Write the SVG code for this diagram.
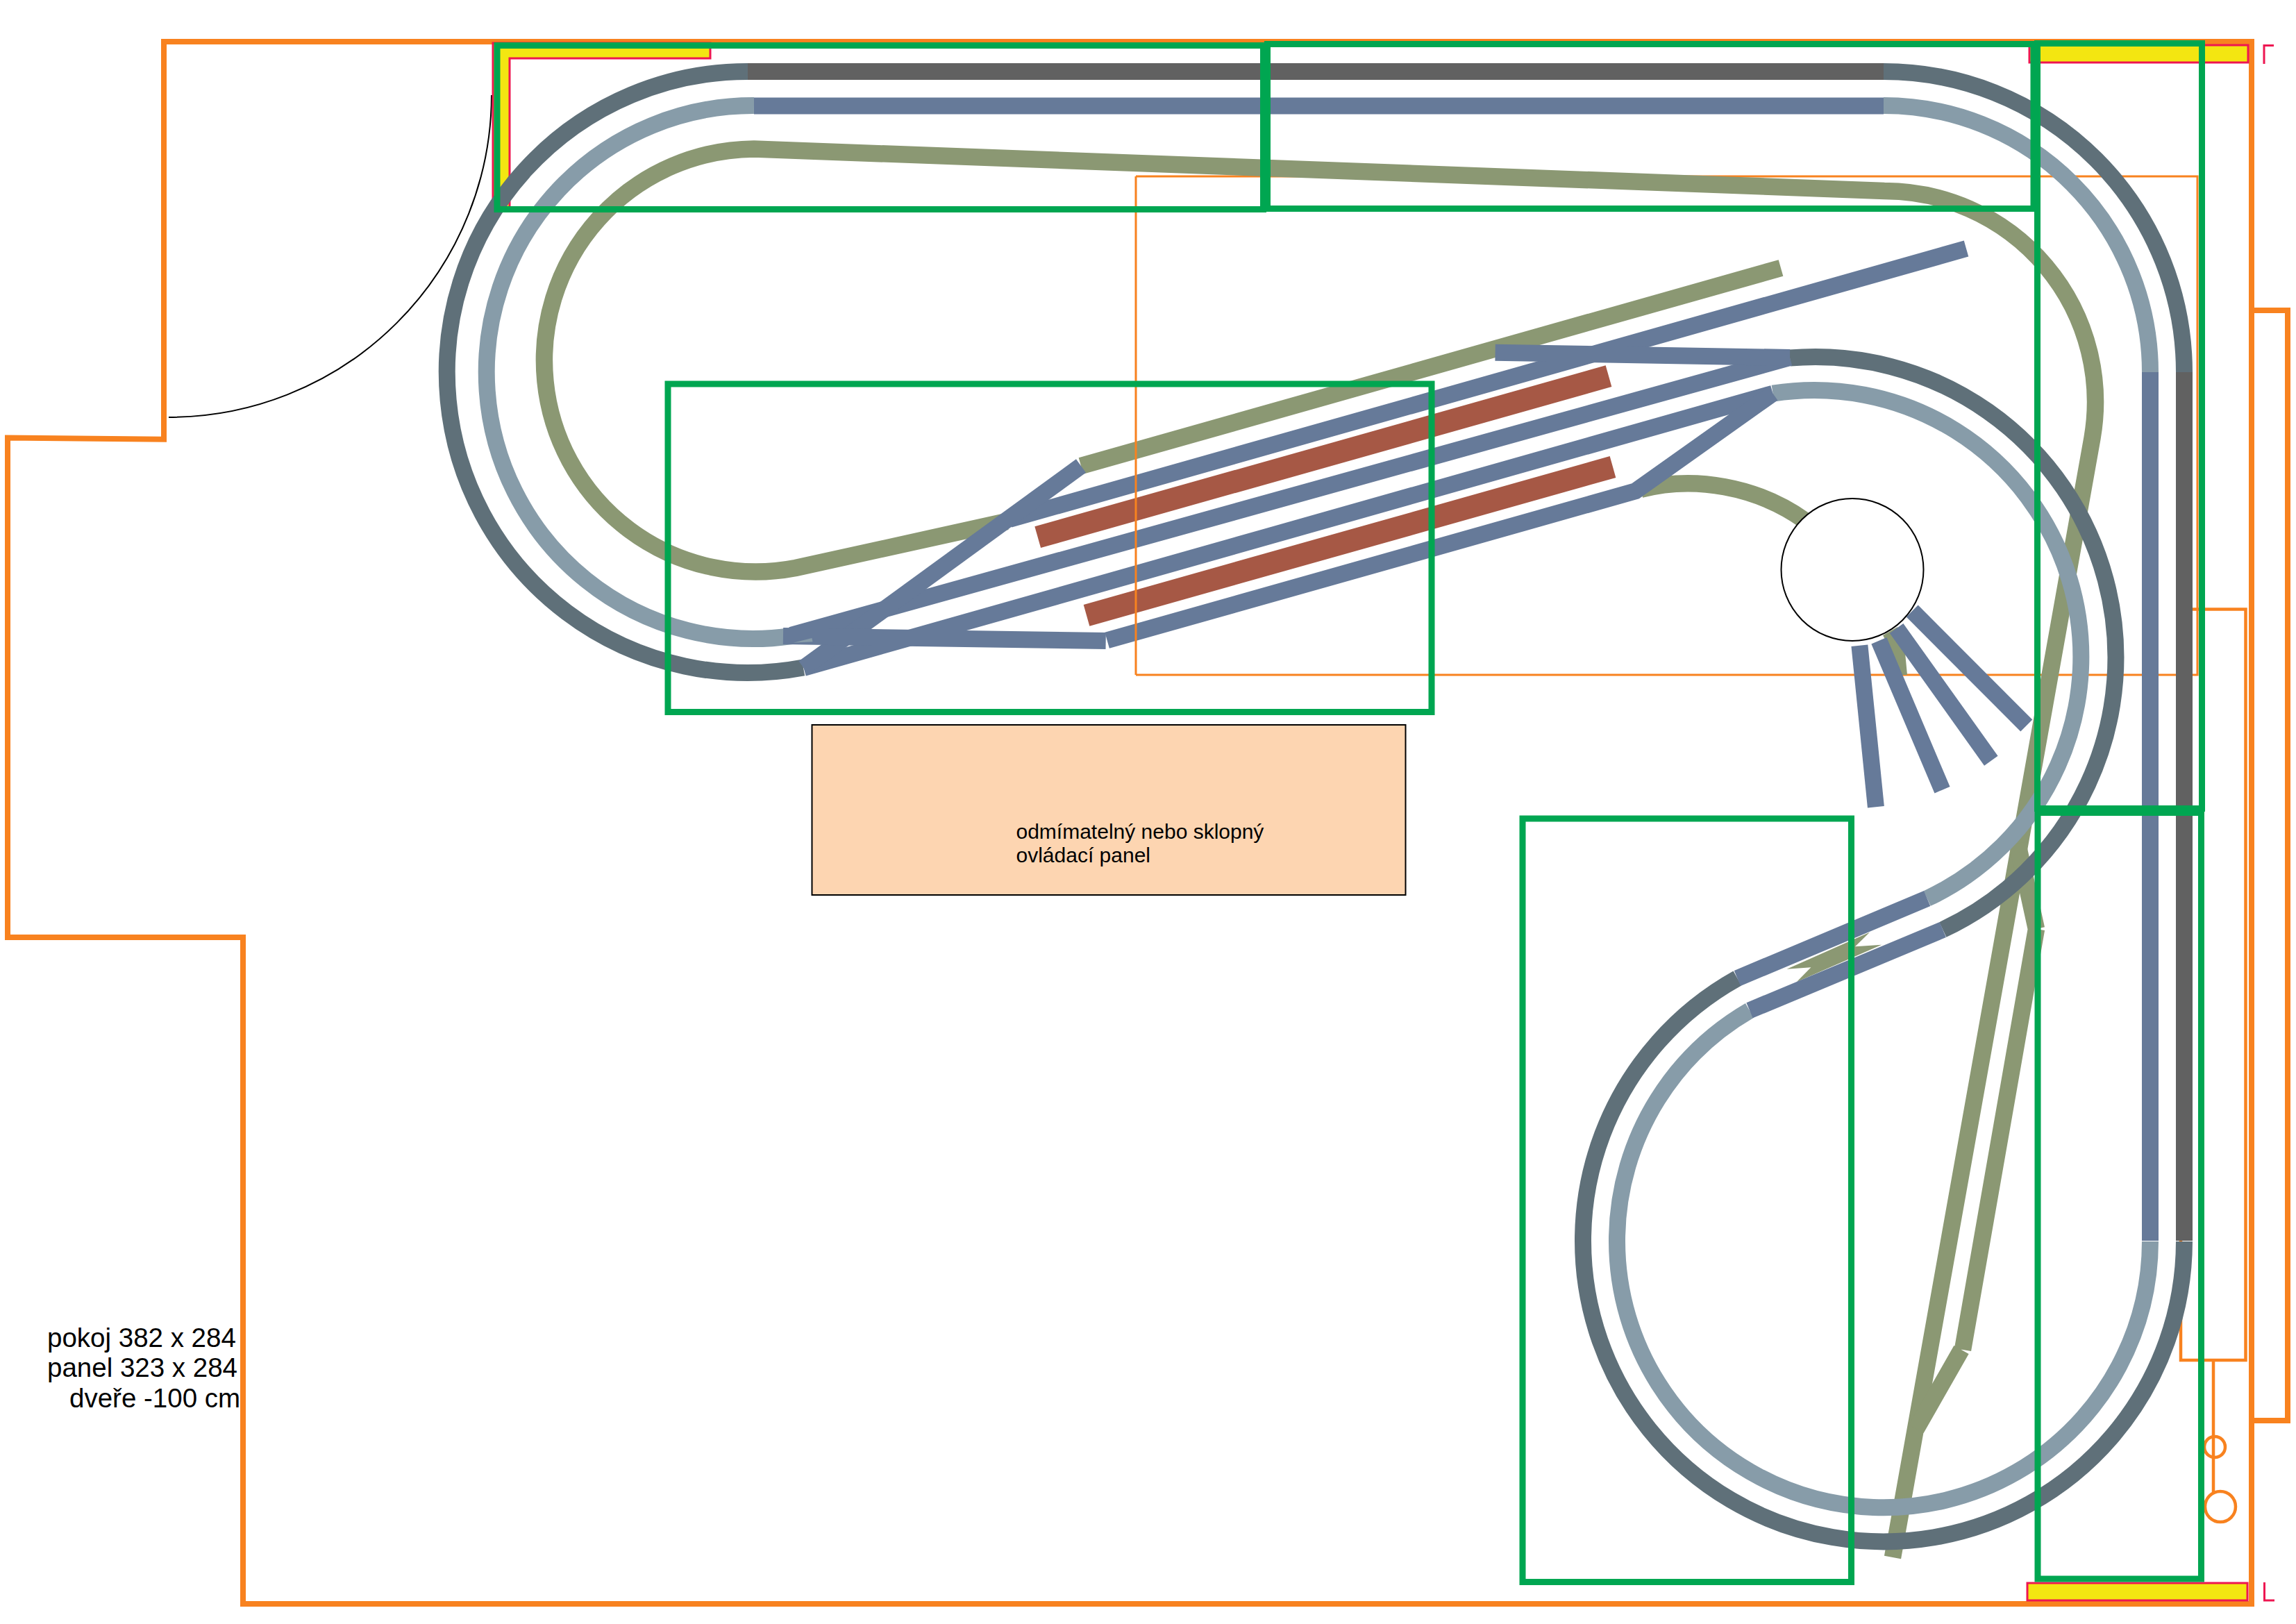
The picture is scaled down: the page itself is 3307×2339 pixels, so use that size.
<svg xmlns="http://www.w3.org/2000/svg" width="3307" height="2339" viewBox="0 0 3307 2339">
<style>
.t{fill:none;stroke-width:24;stroke-linecap:butt}
.gr{stroke:#5f7079}.dk{stroke:#616161}.st{stroke:#879ca9}.bl{stroke:#667a99}.ol{stroke:#8b9873;stroke-width:24.500}
.br{fill:none;stroke:#a65845;stroke-width:32}
.pen{fill:none;stroke:#00a651;stroke-width:9}
.wall{fill:none;stroke:#f8821f;stroke-width:8;stroke-linejoin:miter}
.thin{fill:none;stroke:#f8821f;stroke-width:3}
.mid{fill:none;stroke:#f8821f;stroke-width:4.500}
.y{fill:#f3e611;stroke:#ee1651;stroke-width:3}
.lb{font-family:"Liberation Sans",Arial,sans-serif;fill:#000}
</style>
<rect width="3307" height="2339" fill="#fff"/>
<g id="room">
<path class="wall" d="M236 60H3243V2310H350V1350H11V630.500L236 632.700Z"/>
<path class="wall" d="M3243 447H3295V2046H3243"/>
<path d="M708 137A465 465 0 0 1 243 601" fill="none" stroke="#000" stroke-width="2"/>
<path class="y" d="M710 62H1023V84H734V300H710Z"/>
<rect class="y" x="2923" y="65" width="315" height="25"/>
<rect class="y" x="2920" y="2280" width="317" height="25"/>
<path d="M3275 65.500H3261V92M3261.500 2279V2305H3276" fill="none" stroke="#ee1651" stroke-width="3"/>
<path class="thin" d="M1636 254H3165V972H1636"/>
<rect class="mid" x="3141" y="877.500" width="93.500" height="1081.500"/>
<path class="mid" d="M3188 1959V2150"/>
<circle class="mid" cx="3190" cy="2084" r="15"/>
<circle class="mid" cx="3198" cy="2170" r="22"/>
</g>
<g id="panel">
<rect x="1169.500" y="1044" width="855" height="245" fill="#fdd5b1" stroke="#000" stroke-width="2"/>
<text class="lb" x="1463.500" y="1208" font-size="30">odmímatelný nebo sklopný</text>
<text class="lb" x="1463.500" y="1242" font-size="30">ovládací panel</text>
</g>
<g id="tracks">
<path class="t ol" d="M1450 751L1146 818A304.500 304.500 0 1 1 1086 214.500L2714 275A304 304 0 0 1 3013.500 631L2726 2243"/>
<path class="t ol" d="M2827 1944L2933 1338M2933 1338L2906 1215M2825 1944L2760 2058"/>
<path class="t ol" d="M1557 671L2565 386"/>
<path class="t ol" d="M2363 705C2440 685 2530 700 2600 750"/>
<path d="M2573.600 1395.700L2608.400 1393.300L2587.800 1414.300L2710.200 1360.700L2672 1363.300L2693 1342.700Z" fill="#8b9873"/>
<path d="M2712 915L2733 903L2744 940L2747 972L2738 972L2720 930Z" fill="#8b9873"/>
<path class="t gr" d="M1077 103A433 433 0 1 0 1157 961.500"/>
<path class="t st" d="M1086 152A384 384 0 1 0 1140 916"/>
<path class="t dk" d="M1077 103H2713"/>
<path class="t bl" d="M1086 152.500H2713"/>
<path class="t gr" d="M2713 103A433 433 0 0 1 3146 536"/>
<path class="t st" d="M2713 152A384 384 0 0 1 3097 536"/>
<path class="t bl" d="M3097 536V1787"/>
<path class="t dk" d="M3146 536V1787"/>
<path class="t gr" d="M3146 1788A433 433 0 1 1 2502.400 1409"/>
<path class="t st" d="M3097 1788A384 384 0 1 1 2520 1455.300"/>
<path class="t gr" d="M2578 515.500A433 433 0 0 1 2798.300 1339"/>
<path class="t st" d="M2553.500 566.700A384 384 0 0 1 2775.700 1294"/>
<path d="M2532.500 527.300V532.700L2578 527L2578 515Z" fill="#5f7079"/>
<path class="t bl" d="M2775.700 1294L2502.400 1409"/>
<path class="t bl" d="M2798.300 1339L2520 1455.300"/>
<path class="t bl" d="M1139.600 914.700L2578 515"/>
<path class="t bl" d="M1157.500 962L2553.500 566.700"/>
<path class="t bl" d="M1454 748L2832 358"/>
<path class="t bl" d="M1557 671L1157.500 962"/>
<path class="t bl" d="M1128 916L1592.700 923"/>
<path class="t bl" d="M1594.600 922.300L2355.600 707.300L2553.500 566.700"/>
<path class="t bl" d="M2153.600 507.700L2578 515"/>
<path d="M1142.600 925.700L1170.500 924.300L1169.400 919Z" fill="#879ca9"/>
<path class="br" d="M1494.700 773.700L2317 541.700"/>
<path class="br" d="M1565 886.300L2323 672.500"/>
<path class="thin" d="M1636 254V972"/>
</g>
<g id="turntable">
<circle cx="2668" cy="820.500" r="102.500" fill="#fff" stroke="#000" stroke-width="2"/>
<path class="t bl" d="M2678.400 929.700L2701.900 1162.300"/>
<path class="t bl" d="M2706.400 922.700L2797.500 1137.700"/>
<path class="t bl" d="M2731.600 905L2867.800 1095.700"/>
<path class="t bl" d="M2754.200 880L2918.800 1045"/>
</g>
<g id="sections">
<rect class="pen" x="716" y="65.500" width="1103.500" height="236"/>
<rect class="pen" x="1825.500" y="63.500" width="1103.500" height="237"/>
<rect class="pen" x="2934.500" y="62.500" width="237" height="1102"/>
<rect class="pen" x="2935" y="1170.500" width="235.500" height="1103.500"/>
<rect class="pen" x="2193" y="1179" width="473.500" height="1099.500"/>
<rect class="pen" x="962" y="553" width="1100" height="472.500"/>
</g>
<g id="note">
<text class="lb" x="68" y="1940" font-size="38.500">pokoj 382 x 284</text>
<text class="lb" x="68" y="1983" font-size="38.500">panel 323 x 284</text>
<text class="lb" x="100" y="2027" font-size="38.500">dveře -100 cm</text>
</g>
</svg>
